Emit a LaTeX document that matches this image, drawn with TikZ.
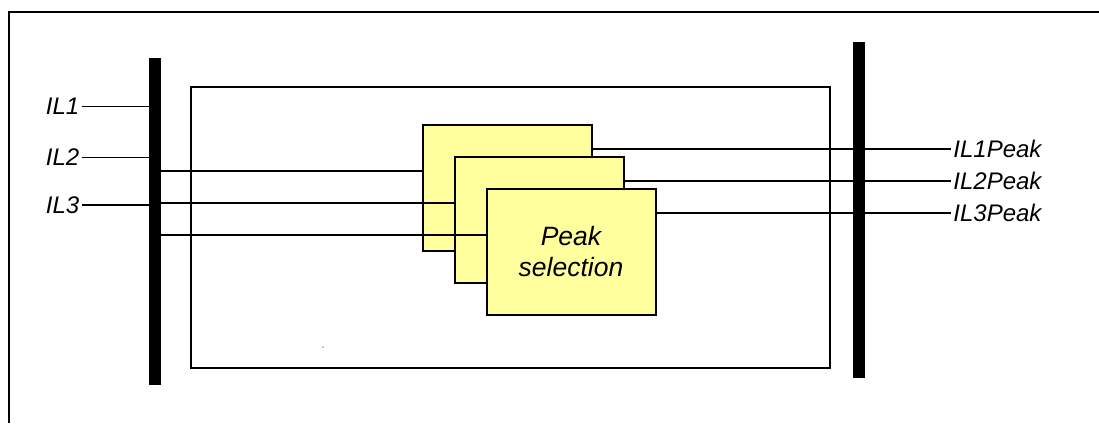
\documentclass[tikz,border=0pt]{standalone}
\usepackage{fontspec}
\setmainfont{Liberation Sans}
\usetikzlibrary{calc}

\definecolor{selfill}{RGB}{255,255,158}

\begin{document}
\begin{tikzpicture}[x=1pt,y=-1pt,
    bar/.style={draw=none,fill=black,inner sep=0pt,minimum width=12pt},
    selbox/.style={draw,line width=2pt,fill=selfill,minimum width=169pt,minimum height=126pt,
                   align=center,font=\fontsize{26.5}{31}\selectfont\itshape},
    sig/.style={font=\fontsize{24}{28}\selectfont\itshape,inner sep=2.5pt},
    wire/.style={line width=1.2pt}
  ]
    \useasboundingbox (0,0) rectangle (1099,423);

    % outer frame
    \draw[line width=2pt] (9,423) -- (9,12) -- (1099,12);

    % function block
    \node[draw,line width=1.3pt,minimum width=639pt,minimum height=281pt,inner sep=0pt] (block) at (510.5,227.5) {};
    \fill (323,347) circle (0.6pt);

    % input and output bars
    \node[bar,minimum height=327pt] (inbar) at (155,221.5) {};
    \node[bar,minimum height=336pt] (outbar) at (858.5,209.7) {};

    % stacked selection boxes
    \node[selbox] (sel1) at (507,188) {};
    \node[selbox] (sel2) at (539,220) {};
    \node[selbox] (sel3) at (571,252) {Peak\\selection};

    % inputs
    \foreach \i/\y in {1/106.7,2/157.3,3/205} {
      \node[sig,anchor=east] (il\i) at (82,\y) {IL\i};
      \draw[wire] (il\i.east) -- (il\i.east -| inbar.west);
    }

    % bar to boxes and boxes to outputs
    \foreach \i in {1,2,3} {
      \coordinate (in\i) at ($(sel\i.west)+(0,-17)$);
      \coordinate (out\i) at ($(sel\i.east)+(0,-39)$);
      \draw[wire] (in\i -| inbar.east) -- (in\i);
      \node[sig,anchor=west] (pk\i) at ($(out\i -| outbar.east)+(86,0)$) {IL\i Peak};
      \draw[wire] (out\i) -- (pk\i.west);
    }
\end{tikzpicture}
\end{document}
